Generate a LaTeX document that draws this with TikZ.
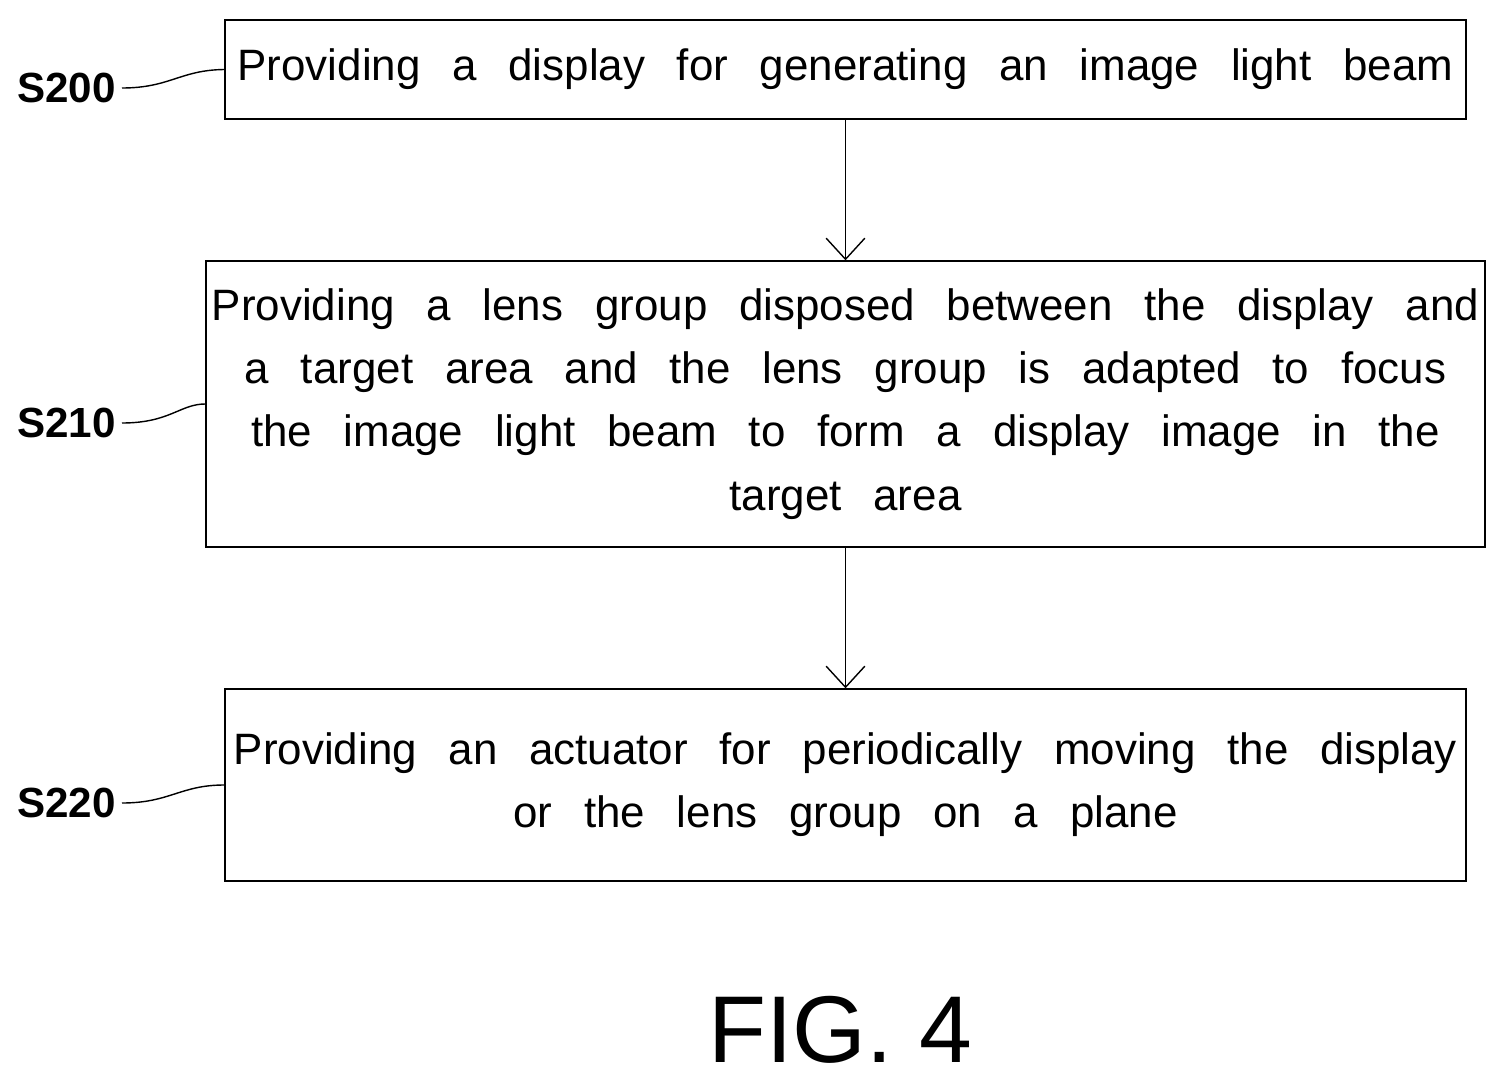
\documentclass[tikz,border=0pt]{standalone}
\usepackage{fontspec}
\setmainfont{Liberation Sans}[WordSpace=2.6]
\newfontfamily\labelfont{Liberation Sans}
\usetikzlibrary{positioning}
\usetikzlibrary{arrows.meta}
\tikzset{
  stepbox/.style={draw, thick, rectangle, minimum width=24.82cm, align=center,
    font=\fontsize{25}{36}\selectfont},
  steplabel/.style={font=\labelfont\fontsize{24}{30}\selectfont\bfseries},
  flow/.style={thick,->,>={Straight Barb[length=12pt,width=22pt]}}
}
\begin{document}
\begin{tikzpicture}[x=0.02cm,y=-0.02cm]
        \useasboundingbox (0,0) rectangle (1488,1091);
        \node[stepbox, minimum height=1.98cm] (s200) at (845.5,69.5) {Providing a display for generating an image light beam};
        \node[stepbox, minimum height=5.72cm] (s210) at (845.5,404) {Providing a lens group disposed between the display and\\ a target area and the lens group is adapted to focus\\ the image light beam to form a display image in the\\ target area};
        \node[stepbox, minimum height=3.84cm] (s220) at (845.5,785) {Providing an actuator for periodically moving the display\\ or the lens group on a plane};

        \node[steplabel, anchor=east] (l200) at (122,88) {S200};
        \node[steplabel, anchor=east] (l210) at (122,423) {S210};
        \node[steplabel, anchor=east] (l220) at (122,803) {S220};

        \draw[thick] (l200.east) .. controls (170,88) and (180,70) .. (s200.west);
        \draw[thick] (l210.east) .. controls (170,423) and (180,404) .. (s210.west);
        \draw[thick] (l220.east) .. controls (170,803) and (180,785) .. (s220.west);

        \draw[flow] (s200) -- (s210);
        \draw[flow] (s210) -- (s220);

        \node[font=\labelfont\fontsize{54}{60}\selectfont] (fig) at (840,1030) {FIG. 4};
\end{tikzpicture}
\end{document}
